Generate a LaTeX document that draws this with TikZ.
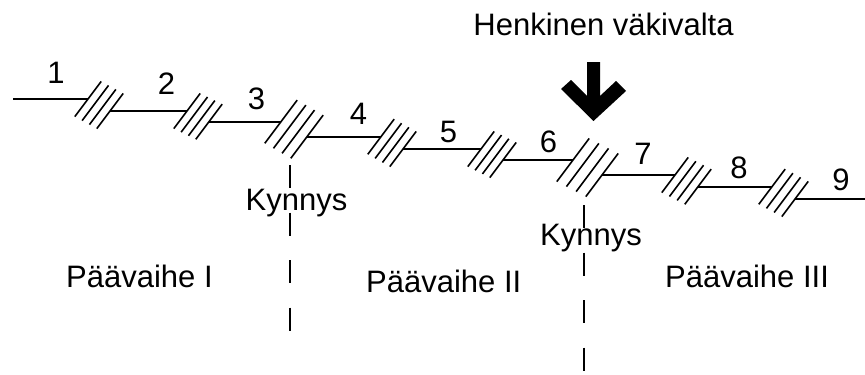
\documentclass[tikz,border=0pt]{standalone}
\usepackage{fontspec}
\setmainfont{Liberation Sans}
\usetikzlibrary{calc}
\begin{document}
\begin{tikzpicture}[x=1bp,y=-1bp,
  stroke/.style={line width=1.6bp, black},
  lbl/.style={font=\fontsize{31bp}{37bp}\selectfont, inner sep=0pt},
  limit/.style={line width=1.6bp, dash pattern=on 23bp off 24.5bp},
]
\useasboundingbox (0,0) rectangle (865,374);

% junction points of the stepped time line (in = upper side, out = lower side)
\coordinate (start) at (13,99);
\coordinate (h1-in) at (88,99);   \coordinate (h1-out) at (110,111);
\coordinate (h2-in) at (187,111); \coordinate (h2-out) at (209,121.7);
\coordinate (h3-in) at (281,121.7); \coordinate (h3-out) at (307,136.7);
\coordinate (h4-in) at (381,136.7); \coordinate (h4-out) at (403,149);
\coordinate (h5-in) at (481,149); \coordinate (h5-out) at (503,160);
\coordinate (h6-in) at (573,160); \coordinate (h6-out) at (602,175);
\coordinate (h7-in) at (675,175); \coordinate (h7-out) at (698,186.7);
\coordinate (h8-in) at (772,186.7); \coordinate (h8-out) at (795,199);
\coordinate (end) at (865,199);

% horizontal segments
\draw[stroke] (start) -- (h1-in);
\draw[stroke] (h1-out) -- (h2-in);
\draw[stroke] (h2-out) -- (h3-in);
\draw[stroke] (h3-out) -- (h4-in);
\draw[stroke] (h4-out) -- (h5-in);
\draw[stroke] (h5-out) -- (h6-in);
\draw[stroke] (h6-out) -- (h7-in);
\draw[stroke] (h7-out) -- (h8-in);
\draw[stroke] (h8-out) -- (end);

% hatch marks: four slanted strokes per step
\foreach \h/\len in {1/22,2/22,3/27,4/22,5/22,6/27,7/22,8/22} {
  \foreach \t in {0,0.3333,0.6667,1} {
    \draw[stroke] ($(h\h-in)!\t!(h\h-out) + (-0.6*\len,0.8*\len)$) -- ++(1.2*\len,-1.6*\len);
  }
}

% segment numbers
\node[lbl] (n1) at (56,72.5) {1};
\node[lbl] (n2) at (166.5,84) {2};
\node[lbl] (n3) at (256.5,99) {3};
\node[lbl] (n4) at (358.5,114) {4};
\node[lbl] (n5) at (448.5,132) {5};
\node[lbl] (n6) at (548.5,142) {6};
\node[lbl] (n7) at (643,154) {7};
\node[lbl] (n8) at (739,167.5) {8};
\node[lbl] (n9) at (841,180) {9};

% threshold lines
\coordinate (k1-top) at (290,165);
\coordinate (k1-bot) at (290,336);
\coordinate (k2-top) at (584,205);
\coordinate (k2-bot) at (584,373);
\draw[limit] (k1-top) -- (k1-bot);
\draw[limit] (k2-top) -- (k2-bot);

\node[lbl, anchor=base] (kyn1) at (296.5,210) {Kynnys};
\node[lbl, anchor=base] (kyn2) at (591,245) {Kynnys};

% phase names
\node[lbl, anchor=base west] (p1) at (66,287) {Päävaihe I};
\node[lbl, anchor=base west] (p2) at (366,292) {Päävaihe II};
\node[lbl, anchor=base west] (p3) at (665,287) {Päävaihe III};

% event marker
\node[lbl, anchor=base] (event) at (603.5,35) {Henkinen väkivalta};
\fill (587,62) -- (600,62) -- (600,96) -- (616,81) -- (626,91) -- (593.5,121)
  -- (561,89) -- (571,80) -- (587,96) -- cycle;
\end{tikzpicture}
\end{document}
